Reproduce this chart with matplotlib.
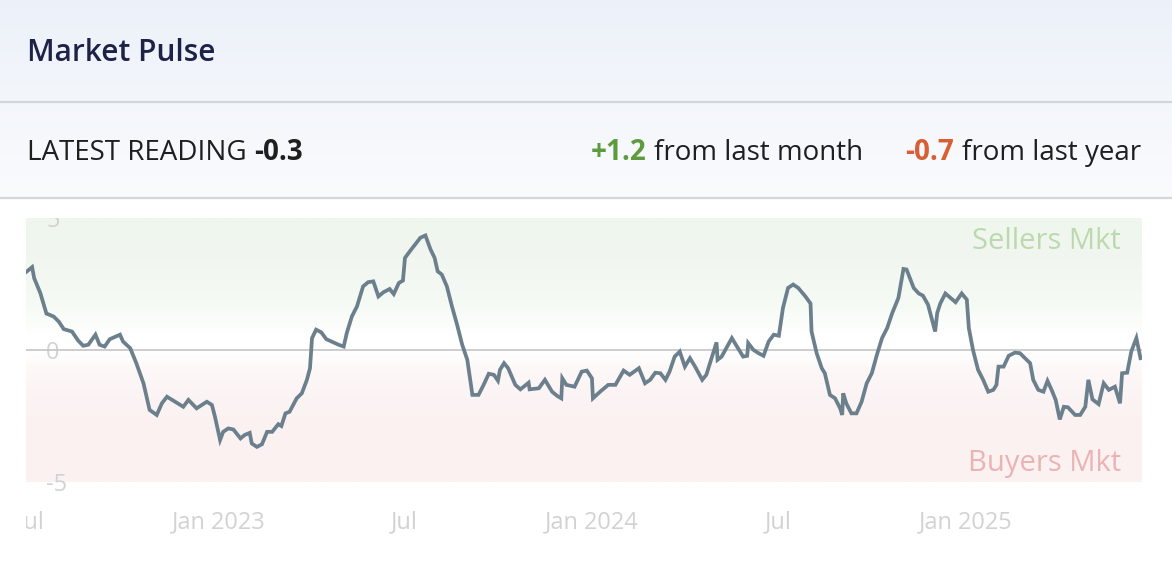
import matplotlib.pyplot as plt
import matplotlib.dates as mdates
import matplotlib.transforms as mtransforms
from matplotlib.colors import LinearSegmentedColormap
import numpy as np
import pandas as pd

plt.rcParams['font.family'] = ['Open Sans', 'DejaVu Sans']

# ---- data ----
start_date = '2022-06-26'
day_offsets = [
    0, 6, 8, 14, 20, 27, 32, 37, 45, 51, 56, 61, 68, 72, 77, 82, 92, 95, 102, 108,
    115, 121, 128, 133, 138, 146, 154, 159, 167, 177, 182, 185, 190, 193, 198, 203, 210, 214, 219, 221,
    226, 231, 236, 241, 247, 250, 254, 258, 265, 270, 275, 278, 280, 284, 289, 294, 301, 306, 311, 314,
    319, 324, 330, 335, 340, 345, 350, 356, 360, 365, 369, 371, 376, 381, 386, 391, 396, 400, 403, 407,
    412, 417, 422, 427, 432, 437, 443, 448, 453, 458, 462, 464, 468, 472, 479, 484, 492, 493, 502, 508,
    515, 520, 524, 525, 529, 537, 544, 549, 554, 555, 562, 570, 577, 585, 591, 600, 606, 611, 616, 621,
    626, 630, 635, 640, 645, 650, 655, 662, 666, 676, 677, 681, 691, 697, 702, 706, 707, 712, 717, 722,
    727, 732, 737, 741, 746, 751, 756, 763, 768, 769, 774, 779, 782, 787, 792, 797, 799, 800, 803, 808,
    813, 818, 823, 828, 833, 838, 843, 848, 854, 859, 862, 869, 874, 878, 883, 890, 892, 895, 900, 910,
    916, 921, 923, 927, 932, 937, 942, 947, 950, 952, 957, 962, 968, 973, 978, 983, 986, 991, 996, 1000,
    1004, 1008, 1012, 1016, 1020, 1027, 1032, 1037, 1040, 1044, 1050, 1055, 1060, 1066, 1071, 1073, 1078, 1082, 1087, 1091,
]
pulse = [
    2.95, 3.14, 2.72, 2.16, 1.38, 1.27, 1.08, 0.79, 0.70, 0.36, 0.16, 0.20, 0.58, 0.20, 0.13, 0.41, 0.58, 0.32, 0.07, -0.50,
    -1.26, -2.27, -2.46, -2.02, -1.77, -1.96, -2.15, -1.89, -2.21, -1.96, -2.08, -2.53, -3.41, -3.10, -2.97, -3.01, -3.35, -3.22, -3.14, -3.54,
    -3.67, -3.57, -3.10, -3.10, -2.81, -2.88, -2.40, -2.34, -1.83, -1.64, -1.13, -0.69, 0.45, 0.77, 0.67, 0.41, 0.29, 0.20, 0.13, 0.64,
    1.27, 1.65, 2.41, 2.57, 2.60, 2.03, 2.19, 2.31, 2.12, 2.54, 2.63, 3.49, 3.75, 4.00, 4.25, 4.34, 3.81, 3.49, 2.98, 2.86,
    2.41, 1.65, 0.96, 0.20, -0.37, -1.70, -1.70, -1.32, -0.90, -0.94, -1.16, -0.75, -0.50, -0.69, -1.32, -1.49, -1.24, -1.49, -1.45, -1.13,
    -1.58, -1.74, -1.83, -1.07, -1.32, -1.39, -0.82, -0.78, -1.07, -1.83, -1.58, -1.32, -1.32, -0.78, -0.94, -0.69, -1.26, -1.13, -0.86, -0.88,
    -1.13, -0.82, -0.25, -0.06, -0.63, -0.31, -0.63, -1.13, -0.94, 0.29, -0.37, -0.25, 0.45, 0.07, -0.25, -0.22, 0.26, 0.01, -0.12, -0.22,
    0.32, 0.58, 0.54, 1.59, 2.35, 2.48, 2.35, 2.03, 1.76, 0.70, -0.12, -0.69, -0.88, -1.70, -1.83, -2.21, -2.46, -1.64, -2.02, -2.40,
    -2.40, -1.96, -1.26, -0.88, -0.18, 0.45, 0.83, 1.40, 1.97, 3.07, 3.05, 2.35, 2.14, 2.06, 1.72, 0.70, 1.40, 1.76, 2.14, 1.81,
    2.14, 1.91, 0.83, 0.01, -0.75, -1.13, -1.58, -1.51, -1.32, -0.63, -0.63, -0.22, -0.10, -0.12, -0.31, -0.50, -1.13, -1.51, -1.58, -1.17,
    -1.51, -1.89, -2.63, -2.15, -2.17, -2.46, -2.46, -2.15, -1.13, -1.87, -2.05, -1.26, -1.51, -1.39, -2.02, -0.88, -0.86, -0.06, 0.45, -0.31,
]

latest = '-0.3'
month_change = '+1.2'
year_change = '-0.7'

x_ticks = ['2022-07-01', '2023-01-01', '2023-07-01', '2024-01-01', '2024-07-01', '2025-01-01']
x_labels = ['Jul', 'Jan 2023', 'Jul', 'Jan 2024', 'Jul', 'Jan 2025']
y_ticks = [5, 0, -5]
x_view = ['2022-06-26', '2025-06-22 12:00']

dates = pd.Timestamp(start_date) + pd.to_timedelta(day_offsets, unit='D')

# ---- figure, pixel-space background axes ----
W, H = 1172, 562
fig = plt.figure(figsize=(W / 100, H / 100), dpi=100, facecolor='white')
bg = fig.add_axes([0, 0, 1, 1], zorder=0)
bg.axis('off')

hdr_cmap = LinearSegmentedColormap.from_list('hdr', ['#ecf1f9', '#f3f6fb', '#fafbfd'])
bg.imshow(np.linspace(0, 1, 100).reshape(-1, 1), cmap=hdr_cmap, extent=[0, W, 198, 0], aspect='auto')
bg.plot([0, W], [101.5, 101.5], color='#d3d7dd', lw=1.6)
bg.plot([0, W], [197.5, 197.5], color='#d3d7dd', lw=1.6)
bg.set_xlim(0, W)
bg.set_ylim(H, 0)

txt_dark = '#1f1f1f'
fs = 20
bg.text(27, 61, 'Market Pulse', fontsize=21.5, fontweight='semibold', color='#1f2247', va='baseline')

t = bg.text(27, 160, 'LATEST READING', fontsize=fs, color=txt_dark, va='baseline')
bg.annotate(latest, xy=(1, 0), xycoords=t, xytext=(5.5, 0), textcoords='offset points',
            fontsize=fs, fontweight='bold', color=txt_dark, va='bottom')

t = bg.text(1141, 160, 'from last year', fontsize=fs, color=txt_dark, va='baseline', ha='right')
bg.annotate(year_change, xy=(0, 0), xycoords=t, xytext=(-5.5, 0), textcoords='offset points',
            fontsize=fs, fontweight='bold', color='#d65f33', va='bottom', ha='right')

t = bg.text(863, 160, 'from last month', fontsize=fs, color=txt_dark, va='baseline', ha='right')
bg.annotate(month_change, xy=(0, 0), xycoords=t, xytext=(-5.5, 0), textcoords='offset points',
            fontsize=fs, fontweight='bold', color='#5e9b3e', va='bottom', ha='right')

# ---- chart axes ----
ax = fig.add_axes([26 / W, 1 - 482 / H, 1116 / W, 264 / H], zorder=1)
x0 = mdates.date2num(pd.Timestamp(x_view[0]))
x1 = mdates.date2num(pd.Timestamp(x_view[1]))

zone_cmap = LinearSegmentedColormap.from_list('zone', [
    (0.0, '#fbf1f1'), (0.25, '#fbf2f2'), (0.42, '#fdf7f7'), (0.49, '#ffffff'),
    (0.55, '#ffffff'), (0.68, '#f5faf4'), (0.85, '#f1f7f0'), (1.0, '#eff6ee')])
ax.imshow(np.linspace(1, 0, 256).reshape(-1, 1), cmap=zone_cmap, vmin=0, vmax=1,
          extent=[x0, x1, -5, 5], aspect='auto', zorder=0, interpolation='bilinear')

ax.axhline(0, color='#c9c9c9', lw=1.3, zorder=2)
ax.plot(dates, pulse, color='#6c7f8d', lw=2.7, solid_joinstyle='miter', zorder=3)

ax.set_xlim(x0, x1)
ax.set_ylim(-5, 5)
ax.axis('off')

tick_col = '#d2d2d2'
yt = mtransforms.blended_transform_factory(bg.transData, ax.transData)
for v in y_ticks:
    ax.text(46, v, str(v), transform=yt, ha='left', va='center_baseline',
            fontsize=17, color=tick_col, clip_on=(v == 5), zorder=1)

xt = mtransforms.blended_transform_factory(ax.transData, bg.transData)
left_clip = mtransforms.TransformedBbox(mtransforms.Bbox([[26 / W, 0], [1, 1]]), fig.transFigure)
for d, lab in zip(x_ticks, x_labels):
    tl = ax.text(mdates.date2num(pd.Timestamp(d)), 528, lab, transform=xt, ha='center',
                 va='baseline', fontsize=17, color=tick_col)
    tl.set_clip_path(None)
    tl.set_clip_box(left_clip)
    tl.set_clip_on(True)

ax.text(1121, 249, 'Sellers Mkt', transform=bg.transData, ha='right', va='baseline',
        fontsize=21, color='#bcd9ae', zorder=1)
ax.text(1121, 471, 'Buyers Mkt', transform=bg.transData, ha='right', va='baseline',
        fontsize=21, color='#ebb3b3', zorder=1)

fig.savefig('out.png', dpi=100, facecolor='white')
